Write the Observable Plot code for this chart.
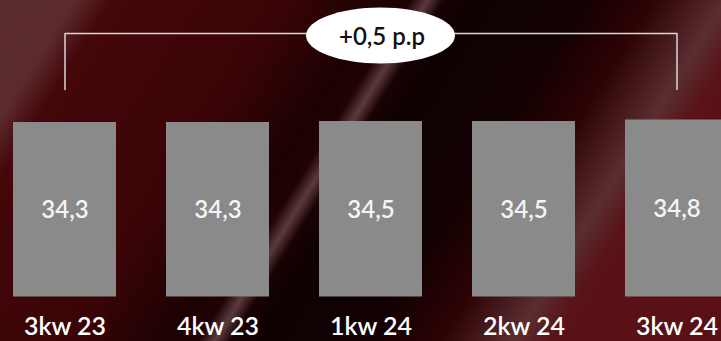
<!DOCTYPE html>
<html>
<head>
<meta charset="utf-8">
<script src="https://cdn.jsdelivr.net/npm/d3@7"></script>
<script src="https://cdn.jsdelivr.net/npm/@observablehq/plot@0.6"></script>
<style>
  html, body { margin: 0; padding: 0; background: #2a0204; }
  #chart {
    width: 721px; height: 341px; overflow: hidden; position: relative;
    background: linear-gradient(122deg,
      #5c2d2f 0%, #5a2a2c 8%, #44070a 12%, #3a0407 30%, #1c0203 41%,
      #200304 44%, #5b3a3e 45.8%, #1a0203 47.5%, #0f0102 50%, #120102 62%,
      #2e0305 70%, #5a2e30 77.7%, #581218 82%, #5a1015 100%);
  }
  #chart svg { display: block; }
</style>
</head>
<body>
<div id="chart"></div>
<script>
const categories = ["3kw 23", "4kw 23", "1kw 24", "2kw 24", "3kw 24"];
const values = [34.3, 34.3, 34.5, 34.5, 34.8];
const valueLabels = ["34,3", "34,3", "34,5", "34,5", "34,8"];
const changeLabel = "+0,5 p.p";
// bracket annotation levels (in value units)
const bracketTop = 51.8;
const bracketBottom = 40.8;
const badgeLevel = 51.4;

const data = categories.map((c, i) => ({category: c, value: values[i], label: valueLabels[i]}));
const first = categories[0], last = categories[categories.length - 1];
const mid = categories[2];

const bracket = [
  {category: first, v: bracketBottom},
  {category: first, v: bracketTop},
  {category: last, v: bracketTop},
  {category: last, v: bracketBottom}
];

// ellipse symbol for the badge
const ellipseSymbol = {
  draw(ctx, size) {
    const r = Math.sqrt(size / Math.PI);
    const rx = r * 2.66, ry = r, k = 0.5522848;
    ctx.moveTo(rx, 0);
    ctx.bezierCurveTo(rx, ry * k, rx * k, ry, 0, ry);
    ctx.bezierCurveTo(-rx * k, ry, -rx, ry * k, -rx, 0);
    ctx.bezierCurveTo(-rx, -ry * k, -rx * k, -ry, 0, -ry);
    ctx.bezierCurveTo(rx * k, -ry, rx, -ry * k, rx, 0);
    ctx.closePath();
  }
};

const font = "Lato, 'Open Sans', sans-serif";

const chart = Plot.plot({
  width: 721,
  height: 341,
  margin: 0,
  style: {background: "transparent", fontFamily: font, overflow: "hidden"},
  x: {type: "band", domain: categories, range: [-12, 753], paddingInner: 0.33, paddingOuter: 0.165, axis: null},
  y: {domain: [0, 35], range: [296.5, 118.45], axis: null},
  marks: [
    Plot.barY(data, {x: "category", y: "value", fill: "#8a8a8a"}),
    Plot.text(data, {x: "category", y: d => d.value / 2, text: "label", dy: 1, fill: "#f4f4f4", fontSize: 24, fontWeight: 600, lineAnchor: "middle"}),
    Plot.text(data, {x: "category", y: 0, text: "category", dy: 30, fill: "white", fontSize: 25, fontWeight: 600, lineAnchor: "middle"}),
    Plot.line(bracket, {x: "category", y: "v", stroke: "#d8d8d8", strokeWidth: 1.5}),
    Plot.dot([{category: mid, v: badgeLevel}], {x: "category", y: "v", r: 28, symbol: ellipseSymbol, fill: "white", stroke: "none", dx: 9.5}),
    Plot.text([{category: mid, v: badgeLevel, t: changeLabel}], {x: "category", y: "v", text: "t", dx: 11, dy: 2, fill: "#111", fontSize: 24, fontWeight: 600, lineAnchor: "middle"})
  ]
});
document.getElementById("chart").appendChild(chart);
</script>
</body>
</html>
